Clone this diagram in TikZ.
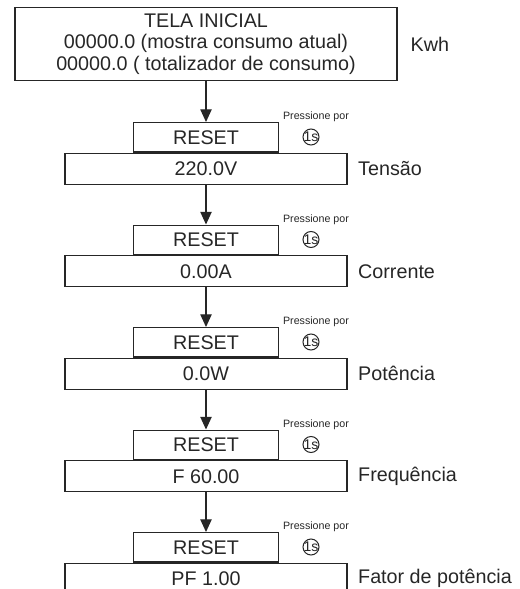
\documentclass[tikz,border=0pt]{standalone}
\usepackage{fontspec}
\setmainfont{Liberation Sans}
\usetikzlibrary{positioning,arrows.meta}
\definecolor{inkgray}{HTML}{262626}

\begin{document}
\begin{tikzpicture}[
    x=0.75pt, y=-0.75pt,
    color=inkgray, line width=0.9pt,
    screenBox/.style={rectangle, draw, inner sep=0pt, minimum width=286.5pt, minimum height=54.75pt, align=center, font=\fontsize{14.8}{16.2}\selectfont},
    resetBox/.style={rectangle, draw, inner sep=0pt, minimum width=108.75pt, minimum height=22.1pt, anchor=north, font=\fontsize{14.8}{16}\selectfont},
    valueBox/.style={rectangle, draw, inner sep=0pt, minimum width=211.5pt, minimum height=23.25pt, anchor=north, font=\fontsize{14.8}{16}\selectfont},
    sideLabel/.style={inner sep=0pt, font=\fontsize{14.8}{16}\selectfont},
    holdText/.style={inner sep=0pt, font=\fontsize{8}{9}\selectfont},
    secCircle/.style={circle, draw, line width=0.75pt, inner sep=-1.5pt, minimum size=12pt, font=\fontsize{10.5}{11}\selectfont},
    flow/.style={-{Triangle[length=9.5pt, width=8.5pt]}}
]
    \useasboundingbox (0,0) rectangle (520,589);
    \clip (0,0) rectangle (520,589);

    % Tela inicial
    \node[screenBox] (tela) at (206,44) {TELA INICIAL\\00000.0 (mostra consumo atual)\\00000.0 ( totalizador de consumo)};
    \node[sideLabel, anchor=west] (kwh) at (410,44) {Kwh};

    % Tensao
    \node[resetBox] (r1) at (206,122) {RESET};
    \node[valueBox] (v1) at (r1.south) {220.0V};
    \node[sideLabel, right=7.5pt of v1] (l1) {Tensão};
    \node[holdText] (p1) at (316,117) {Pressione por};
    \node[secCircle] (s1) at (311,137) {1s};
    \draw[flow] (tela) -- (r1);

    % Corrente
    \node[resetBox] (r2) at (206,224.5) {RESET};
    \node[valueBox] (v2) at (r2.south) {0.00A};
    \node[sideLabel, right=7.5pt of v2] (l2) {Corrente};
    \node[holdText] (p2) at (316,219.5) {Pressione por};
    \node[secCircle] (s2) at (311,239.5) {1s};
    \draw[flow] (v1) -- (r2);

    % Potencia
    \node[resetBox] (r3) at (206,327) {RESET};
    \node[valueBox] (v3) at (r3.south) {0.0W};
    \node[sideLabel, right=7.5pt of v3] (l3) {Potência};
    \node[holdText] (p3) at (316,322) {Pressione por};
    \node[secCircle] (s3) at (311,342) {1s};
    \draw[flow] (v2) -- (r3);

    % Frequencia
    \node[resetBox] (r4) at (206,429.5) {RESET};
    \node[valueBox] (v4) at (r4.south) {F 60.00};
    \node[sideLabel, right=7.5pt of v4] (l4) {Frequência};
    \node[holdText] (p4) at (316,424.5) {Pressione por};
    \node[secCircle] (s4) at (311,444.5) {1s};
    \draw[flow] (v3) -- (r4);

    % Fator de potencia (cortado embaixo)
    \node[resetBox] (r5) at (206,532) {RESET};
    \node[valueBox] (v5) at (r5.south) {PF 1.00};
    \node[sideLabel, right=7.5pt of v5] (l5) {Fator de potência};
    \node[holdText] (p5) at (316,527) {Pressione por};
    \node[secCircle] (s5) at (311,547) {1s};
    \draw[flow] (v4) -- (r5);
\end{tikzpicture}
\end{document}
